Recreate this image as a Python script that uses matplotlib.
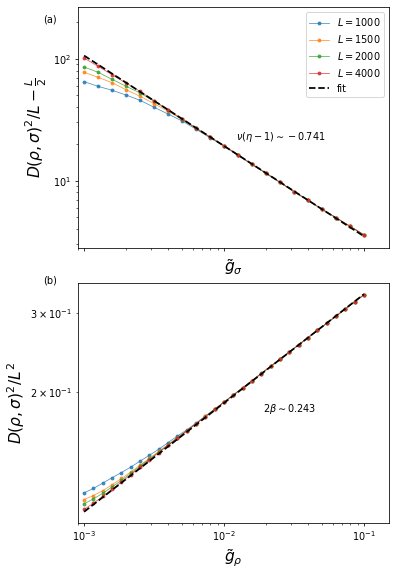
import matplotlib
matplotlib.use("Agg")
import matplotlib.pyplot as plt
import numpy as np

# ---------------- data ----------------
L_values = [1000, 1500, 2000, 4000]
colors = ["C0", "C1", "C2", "C3"]

# panel (a)
g_sigma = [1.000e-3, 1.259e-3, 1.585e-3, 1.995e-3, 2.512e-3, 3.162e-3, 3.981e-3,
           5.012e-3, 6.310e-3, 7.943e-3, 1.000e-2, 1.259e-2, 1.585e-2, 1.995e-2,
           2.512e-2, 3.162e-2, 3.981e-2, 5.012e-2, 6.310e-2, 7.943e-2, 1.000e-1]
Da_L1000 = [64.8, 59.4, 55.1, 50.4, 45.6, 40.0, 35.2, 30.9, 26.4, 22.5, 19.2,
            16.15, 13.60, 11.48, 9.69, 8.12, 6.90, 5.83, 4.97, 4.23, 3.59]
Da_L1500 = [77.4, 70.4, 63.6, 55.7, 49.2, 42.8, 37.1, 31.8, 26.9, 22.7, 19.3,
            16.2, 13.62, 11.50, 9.70, 8.13, 6.91, 5.83, 4.97, 4.23, 3.59]
Da_L2000 = [85.5, 77.4, 67.8, 59.4, 52.4, 44.7, 37.9, 31.9, 26.95, 22.78, 19.34,
            16.24, 13.63, 11.50, 9.70, 8.13, 6.91, 5.83, 4.97, 4.23, 3.59]
Da_L4000 = [101.3, 86.6, 73.9, 63.2, 54.0, 45.3, 38.2, 32.0, 27.0, 22.8, 19.36,
            16.25, 13.63, 11.50, 9.70, 8.13, 6.91, 5.83, 4.97, 4.23, 3.59]
fit_a_exponent = -0.741
fit_a_amplitude = 0.635

# panel (b)
g_rho = [1.000e-3, 1.166e-3, 1.359e-3, 1.585e-3, 1.848e-3, 2.154e-3, 2.512e-3,
         2.929e-3, 3.415e-3, 3.981e-3, 4.642e-3, 5.412e-3, 6.310e-3, 7.356e-3,
         8.577e-3, 1.000e-2, 1.166e-2, 1.359e-2, 1.585e-2, 1.848e-2, 2.154e-2,
         2.512e-2, 2.929e-2, 3.415e-2, 3.981e-2, 4.642e-2, 5.412e-2, 6.310e-2,
         7.356e-2, 8.577e-2, 1.000e-1]
Db_L1000 = [0.1192, 0.1219, 0.1253, 0.1288, 0.1323, 0.1360, 0.1403, 0.1446,
            0.1491, 0.1543, 0.1596, 0.1647, 0.1706, 0.1768, 0.1833, 0.1901,
            0.1972, 0.2045, 0.2122, 0.2202, 0.2284, 0.2369, 0.2458, 0.2551,
            0.2647, 0.2746, 0.2849, 0.2956, 0.3067, 0.3182, 0.3300]
Db_L1500 = [0.1151, 0.1175, 0.1205, 0.1242, 0.1283, 0.1326, 0.1374, 0.1423,
            0.1475, 0.1527, 0.1584, 0.1641, 0.1702, 0.1766, 0.1831, 0.1899,
            0.1970, 0.2044, 0.2121, 0.2201, 0.2284, 0.2369, 0.2458, 0.2551,
            0.2647, 0.2746, 0.2849, 0.2956, 0.3067, 0.3182, 0.3300]
Db_L2000 = [0.1127, 0.1155, 0.1189, 0.1229, 0.1271, 0.1317, 0.1367, 0.1418,
            0.1470, 0.1524, 0.1581, 0.1639, 0.1700, 0.1764, 0.1830, 0.1899,
            0.1970, 0.2044, 0.2121, 0.2201, 0.2284, 0.2369, 0.2458, 0.2551,
            0.2647, 0.2746, 0.2849, 0.2956, 0.3067, 0.3182, 0.3300]
Db_L4000 = [0.1094, 0.1130, 0.1170, 0.1214, 0.1260, 0.1308, 0.1360, 0.1412,
            0.1466, 0.1521, 0.1579, 0.1638, 0.1700, 0.1764, 0.1830, 0.1899,
            0.1970, 0.2044, 0.2121, 0.2201, 0.2284, 0.2369, 0.2458, 0.2551,
            0.2647, 0.2746, 0.2849, 0.2956, 0.3067, 0.3182, 0.3300]
fit_b_exponent = 0.243
fit_b_amplitude = 0.5792

# ---------------- plot ----------------
DPI = 70
fig = plt.figure(figsize=(397 / DPI, 571 / DPI), dpi=DPI)
ax1 = fig.add_axes([0.1957, 0.5662, 0.7841, 0.4210])
ax2 = fig.add_axes([0.1957, 0.0846, 0.7841, 0.4193])

series_a = [Da_L1000, Da_L1500, Da_L2000, Da_L4000]
series_b = [Db_L1000, Db_L1500, Db_L2000, Db_L4000]

ga = np.array(g_sigma)
gb = np.array(g_rho)

style = dict(lw=0.8, ms=3.0, alpha=0.8)
for L, c, ya in zip(L_values, colors, series_a):
    ax1.plot(ga, ya, "o-", color=c, label=rf"$L={L}$", **style)
ax1.plot(ga, fit_a_amplitude * ga ** fit_a_exponent, "k--", lw=1.8, label="fit")

for L, c, yb in zip(L_values, colors, series_b):
    ax2.plot(gb, yb, "o-", color=c, label=rf"$L={L}$", **style)
ax2.plot(gb, fit_b_amplitude * gb ** fit_b_exponent, "k--", lw=1.8, label="fit")

for ax in (ax1, ax2):
    ax.set_xscale("log")
    ax.set_yscale("log")
    ax.set_xlim(9.0e-4, 0.151)

ax1.set_ylim(2.82, 264)
ax1.tick_params(labelbottom=False)

ax1.set_xlabel(r"$\tilde{g}_\sigma$", fontsize=16)
ax1.set_ylabel(r"$D(\rho,\sigma)^2/L-\frac{L}{2}$", fontsize=16)
ax2.set_xlabel(r"$\tilde{g}_\rho$", fontsize=16)
ax2.set_ylabel(r"$D(\rho,\sigma)^2/L^2$", fontsize=16)

ax1.legend(loc="upper right")

ax1.text(0.509, 0.46, r"$\nu(\eta-1)\sim-0.741$", transform=ax1.transAxes,
         ha="left", va="center", fontsize=10)
ax2.text(0.595, 0.475, r"$2\beta\sim0.243$", transform=ax2.transAxes,
         ha="left", va="center", fontsize=10)

fig.text(0.108, 0.966, "(a)", ha="left", va="center", fontsize=10)
fig.text(0.108, 0.508, "(b)", ha="left", va="center", fontsize=10)

fig.savefig("out.png", dpi=DPI)
